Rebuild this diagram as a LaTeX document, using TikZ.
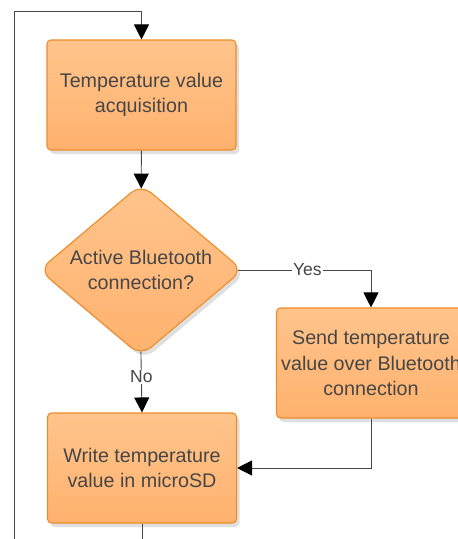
\documentclass[tikz,border=0pt]{standalone}
\usepackage{fontspec}
\setmainfont{Liberation Sans}
\usetikzlibrary{shapes.geometric,arrows.meta,shadows}

\definecolor{boxtop}{RGB}{255,196,140}
\definecolor{boxmid}{RGB}{255,170,92}
\definecolor{boxbot}{RGB}{255,178,110}
\definecolor{boxline}{RGB}{238,140,40}
\definecolor{txtgray}{RGB}{70,70,70}
\definecolor{linegray}{RGB}{70,70,70}

\tikzset{
  flowbox/.style={draw=boxline, line width=1.1pt,
    top color=boxtop, middle color=boxmid, bottom color=boxbot,
    drop shadow={opacity=0.25, shadow xshift=3pt, shadow yshift=-4pt},
    text=txtgray, align=center, font=\fontsize{19.7}{25.5}\selectfont},
  procbox/.style={flowbox, rectangle, rounded corners=4pt,
    minimum width=189pt, minimum height=110pt},
  decision/.style={flowbox, diamond, rounded corners=13pt, aspect=1.18,
    inner sep=0pt, minimum width=204pt, minimum height=172pt},
  flowline/.style={draw=linegray, line width=0.9pt},
  arrowline/.style={flowline, -{Triangle[width=15pt,length=15pt,fill=black,color=black]}},
  lbl/.style={fill=white, inner sep=1pt, text=txtgray,
    font=\fontsize{17.5}{20}\selectfont}
}

\begin{document}
\begin{tikzpicture}[x=1pt, y=-1pt]
    \path[use as bounding box, clip] (0,0) rectangle (458,539);

    \node[procbox] (acq) at (141.5,95) {Temperature value\\acquisition};
    \node[decision] (bt) at (141,270) {Active Bluetooth\\connection?};
    \node[procbox] (send) at (371,363) {Send temperature\\value over Bluetooth\\connection};
    \node[procbox] (sd) at (142,468) {Write temperature\\value in microSD};

    \coordinate (loopbot) at (142,560);
    \coordinate (looptop) at (14,11.5);

    \draw[arrowline, shorten >=-5pt] (acq) -- (bt);
    \draw[arrowline, shorten <=-6pt] (bt.east) -| node[lbl, pos=0.25] {Yes} (send.north);
    \draw[arrowline, shorten <=-5pt] (bt.south) -- node[lbl, pos=0.36] {No} (sd.north);
    \draw[arrowline] (send.south) |- (sd.east);
    \draw[flowline] (sd.south) -- (loopbot) -| (looptop);
    \draw[arrowline] (looptop) -| (acq.north);
\end{tikzpicture}
\end{document}
